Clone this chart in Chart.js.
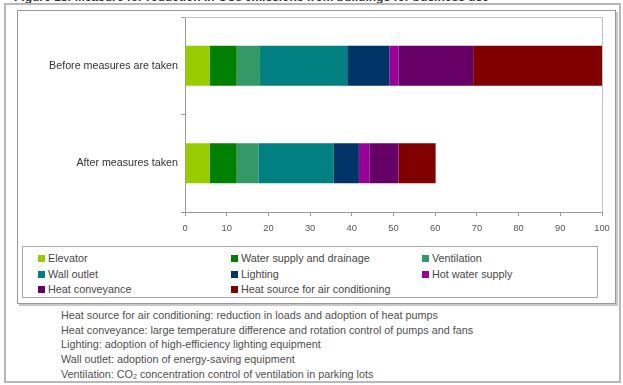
<!DOCTYPE html>
<html>
<head>
<meta charset="utf-8">
<script src="https://cdn.jsdelivr.net/npm/chart.js@4"></script>
<style>
  html, body { margin: 0; padding: 0; background: #fff; }
  #page { position: relative; width: 623px; height: 385px; overflow: hidden; font-family: "Liberation Sans", Arial, sans-serif; }
  .title { position: absolute; left: 14px; top: -10px; font-weight: bold; font-size: 12px; color: #333; white-space: nowrap; }
  .outer { position: absolute; left: 4px; top: 3px; width: 613px; height: 376px; border: 2px solid #b8b8b8; }
  .frame { position: absolute; left: 17px; top: 10px; width: 597px; height: 292px; border: 1px solid #9a9a9a; box-shadow: 2px 2px 0 #c8c8c8; }
  .legend { position: absolute; left: 22px; top: 246px; width: 574px; height: 50px; border: 1px solid #a8a8a8; }
  .item { position: absolute; font-size: 10.8px; color: #484848; white-space: nowrap; line-height: 12px; }
  .sw { position: absolute; width: 7px; height: 7px; }
  .notes { position: absolute; left: 61px; top: 308px; font-size: 10.8px; line-height: 14.7px; color: #505050; white-space: nowrap; }
  .notes sub { font-size: 7px; vertical-align: -1px; line-height: 0; }
  canvas { position: absolute; left: 0; top: 0; }
</style>
</head>
<body>
<div id="page">
  <div class="title">Figure 18: Measure for reduction in CO₂ emissions from buildings for business use</div>
  <div class="outer"></div>
  <div class="frame"></div>
  <div class="legend" id="legend"></div>
  <div class="notes">
    <div>Heat source for air conditioning: reduction in loads and adoption of heat pumps</div>
    <div>Heat conveyance: large temperature difference and rotation control of pumps and fans</div>
    <div>Lighting: adoption of high-efficiency lighting equipment</div>
    <div>Wall outlet: adoption of energy-saving equipment</div>
    <div>Ventilation: CO<sub>2</sub> concentration control of ventilation in parking lots</div>
  </div>
  <canvas id="chart" width="623" height="385"></canvas>
</div>
<script>
// Building energy use categories (stacked, share of total before measures = 100)
const categories = ["Before measures are taken", "After measures taken"];

const seriesNames = [
  "Elevator",
  "Water supply and drainage",
  "Ventilation",
  "Wall outlet",
  "Lighting",
  "Hot water supply",
  "Heat conveyance",
  "Heat source for air conditioning"
];

const elevator        = [6.0, 6.0];
const waterSupply     = [6.4, 6.4];
const ventilation     = [5.6, 5.2];
const wallOutlet      = [20.9, 18.1];
const lighting        = [10.1, 6.0];
const hotWater        = [2.2, 2.5];
const heatConveyance  = [17.9, 7.0];
const heatSource      = [30.9, 8.9];

const seriesValues = [elevator, waterSupply, ventilation, wallOutlet, lighting, hotWater, heatConveyance, heatSource];

const seriesColors = ["#99cc00", "#008000", "#339966", "#008080", "#003366", "#990099", "#660066", "#800000"];

const xTicks = [0, 10, 20, 30, 40, 50, 60, 70, 80, 90, 100];

// Legend laid out in three columns inside its box
const legendEl = document.getElementById("legend");
const colX = [15, 208, 399];
const rowY = [5, 21, 36];
seriesNames.forEach((name, i) => {
  const col = i % 3, row = Math.floor(i / 3);
  const sw = document.createElement("div");
  sw.className = "sw";
  sw.style.left = colX[col] + "px";
  sw.style.top = (rowY[row] + 2.5) + "px";
  sw.style.background = seriesColors[i];
  legendEl.appendChild(sw);
  const t = document.createElement("div");
  t.className = "item";
  t.style.left = (colX[col] + 10) + "px";
  t.style.top = rowY[row] + "px";
  t.textContent = name;
  legendEl.appendChild(t);
});

// Light border around the plotting area
const plotBorder = {
  id: "plotBorder",
  beforeDatasetsDraw(chart) {
    const { ctx, chartArea: a } = chart;
    ctx.save();
    ctx.strokeStyle = "#c4c4c4";
    ctx.lineWidth = 1;
    ctx.beginPath();
    ctx.moveTo(a.left, a.top + 0.5);
    ctx.lineTo(a.right + 0.5, a.top + 0.5);
    ctx.lineTo(a.right + 0.5, a.bottom);
    ctx.stroke();
    ctx.restore();
  }
};

new Chart(document.getElementById("chart"), {
  type: "bar",
  data: {
    labels: categories,
    datasets: seriesNames.map((name, i) => ({
      label: name,
      data: seriesValues[i],
      backgroundColor: seriesColors[i],
      borderWidth: 0,
      barPercentage: 0.41,
      categoryPercentage: 1
    }))
  },
  options: {
    indexAxis: "y",
    responsive: false,
    animation: false,
    layout: { padding: { top: 17, right: 21, bottom: 143, left: 0 } },
    plugins: { legend: { display: false }, tooltip: { enabled: false } },
    scales: {
      x: {
        stacked: true,
        min: 0,
        max: 100,
        afterBuildTicks(scale) { scale.ticks = xTicks.map(v => ({ value: v })); },
        afterFit(scale) { scale.height = 30; },
        ticks: { color: "#555", font: { family: "Liberation Sans", size: 9.4 }, padding: 7, maxRotation: 0 },
        grid: { drawOnChartArea: false, drawTicks: true, tickLength: 4, color: "#9a9a9a" },
        border: { color: "#9a9a9a" }
      },
      y: {
        stacked: true,
        afterFit(scale) { scale.width = 185; },
        ticks: { color: "#333", font: { family: "Liberation Sans", size: 10.7 }, padding: 3 },
        grid: { drawOnChartArea: false, drawTicks: true, tickLength: 4, color: "#9a9a9a", offset: true },
        border: { color: "#9a9a9a" }
      }
    }
  },
  plugins: [plotBorder]
});
</script>
</body>
</html>
